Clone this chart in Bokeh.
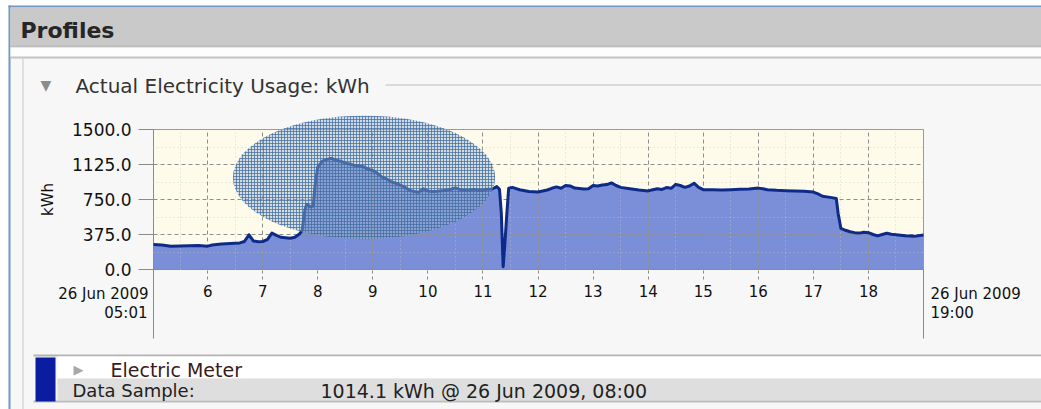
from bokeh.plotting import figure
from bokeh.models import FixedTicker, Label, Range1d, NumeralTickFormatter
from bokeh.embed import file_html
from bokeh.resources import INLINE

# ---------------- data ----------------
times = ["05:01", "05:10", "05:20", "05:30", "05:40", "05:50", "06:00", "06:05",
         "06:15", "06:25", "06:35", "06:40", "06:45", "06:50", "06:55", "07:00",
         "07:05", "07:10", "07:15", "07:20", "07:30", "07:35", "07:40", "07:43",
         "07:46", "07:48", "07:52", "07:55", "07:57", "08:00", "08:05", "08:10",
         "08:15", "08:20", "08:25", "08:30", "08:35", "08:40", "08:45", "08:50",
         "08:55", "09:00", "09:05", "09:10", "09:15", "09:20", "09:25", "09:30",
         "09:35", "09:40", "09:45", "09:50", "09:55", "10:00", "10:05", "10:10",
         "10:15", "10:20", "10:25", "10:30", "10:35", "10:40", "10:45", "10:50",
         "10:55", "11:00", "11:05", "11:10", "11:15", "11:18", "11:20", "11:22",
         "11:24", "11:26", "11:28", "11:32", "11:40", "11:50", "12:00", "12:10",
         "12:15", "12:20", "12:25", "12:30", "12:35", "12:40", "12:50", "12:55",
         "13:00", "13:05", "13:10", "13:15", "13:20", "13:25", "13:30", "13:40",
         "13:50", "14:00", "14:05", "14:10", "14:15", "14:20", "14:25", "14:30",
         "14:35", "14:40", "14:45", "14:50", "14:55", "15:00", "15:10", "15:20",
         "15:30", "15:40", "15:50", "16:00", "16:05", "16:10", "16:20", "16:30",
         "16:40", "16:50", "17:00", "17:05", "17:10", "17:20", "17:25", "17:27",
         "17:30", "17:35", "17:40", "17:45", "17:50", "17:55", "18:00", "18:05",
         "18:10", "18:15", "18:20", "18:25", "18:30", "18:40", "18:50", "19:00"]
kwh = [268, 262, 250, 252, 255, 258, 250, 262,
       272, 278, 285, 300, 372, 305, 298, 300,
       320, 390, 365, 345, 335, 345, 380, 420,
       640, 700, 672, 680, 900, 1100, 1160, 1180,
       1192, 1170, 1160, 1140, 1130, 1115, 1110, 1100,
       1075, 1060, 1030, 990, 970, 940, 925, 905,
       880, 850, 835, 828, 865, 840, 835, 838,
       845, 848, 860, 875, 855, 850, 852, 858,
       850, 852, 860, 862, 888, 860, 600, 30,
       300, 600, 870, 880, 855, 835, 830, 852,
       870, 885, 870, 900, 895, 872, 862, 865,
       900, 895, 905, 910, 928, 900, 880, 865,
       852, 842, 855, 865, 858, 878, 870, 912,
       900, 880, 895, 925, 880, 855, 855, 852,
       855, 860, 862, 872, 865, 855, 848, 845,
       842, 838, 830, 810, 785, 770, 760, 600,
       440, 420, 405, 395, 390, 400, 395, 375,
       360, 375, 388, 378, 372, 362, 355, 370]

hour_ticks = [6, 7, 8, 9, 10, 11, 12, 13, 14, 15, 16, 17, 18]
hour_minor = [5.5, 6.5, 7.5, 8.5, 9.5, 10.5, 11.5, 12.5, 13.5, 14.5, 15.5, 16.5, 17.5, 18.5]
kwh_ticks = [0, 375, 750, 1125, 1500]
kwh_minor = [187.5, 562.5, 937.5, 1312.5]
start_date, start_time = "26 Jun 2009", "05:01"
end_date, end_time = "26 Jun 2009", "19:00"
panel_title = "Profiles"
section_title = "Actual Electricity Usage: kWh"
series_name = "Electric Meter"
sample_label = "Data Sample:"
sample_value = "1014.1 kWh @ 26 Jun 2009, 08:00"
# highlight ellipse (centre in hours / kWh, size in hours / kWh)
hl_center = (8.84, 986)
hl_size = (4.76, 1325)


def to_hours(t):
    h, m = t.split(":")
    return int(h) + int(m) / 60.0


x = [to_hours(t) for t in times]
h0, h1 = to_hours(start_time), to_hours(end_time)

W, H = 1041, 409
FL, FR, FT, FB = 153, 923, 129, 269   # plot frame in page pixels
FONT = "DejaVu Sans"

# ---------------- chart ----------------
p = figure(width=W, height=H, output_backend="svg", toolbar_location=None,
           x_range=Range1d(h0, h1), y_range=Range1d(kwh_ticks[0], kwh_ticks[-1]),
           min_border_left=FL, min_border_right=W - FR,
           min_border_top=FT, min_border_bottom=H - FB,
           background_fill_color="#fffbea", border_fill_color="#f7f7f7",
           outline_line_color="#9a9a9a")

p.varea(x=x, y1=0, y2=kwh, fill_color="#7b8fd8")
p.line(x=x, y=kwh, line_color="#0d2a88", line_width=3, line_join="round",
       level="overlay")

p.xaxis.ticker = FixedTicker(ticks=hour_ticks, minor_ticks=hour_minor)
p.yaxis.ticker = FixedTicker(ticks=kwh_ticks, minor_ticks=kwh_minor)
p.yaxis.formatter = NumeralTickFormatter(format="0.0")
for ax in (p.xaxis, p.yaxis):
    ax.axis_line_color = "#8a8a8a"
    ax.major_tick_line_color = "#8a8a8a"
    ax.minor_tick_line_color = None
    ax.major_tick_in = 0
    ax.major_label_text_font = FONT
    ax.major_label_text_color = "#111111"
p.xaxis.major_label_text_font_size = "15px"
p.yaxis.major_label_text_font_size = "17px"
p.xaxis.major_tick_out = 10
p.xaxis.major_tick_line_dash = "3 3"
p.xaxis.major_label_standoff = 5
p.yaxis.major_tick_out = 15
p.yaxis.major_label_standoff = 7
p.yaxis.axis_label = "kWh"
p.yaxis.axis_label_text_font = FONT
p.yaxis.axis_label_text_font_size = "15px"
p.yaxis.axis_label_text_font_style = "normal"
p.yaxis.axis_label_text_color = "#111111"
p.yaxis.axis_label_standoff = 12

for g in (p.xgrid, p.ygrid):
    g.level = "annotation"
    g.grid_line_color = "#8f8f8f"
    g.grid_line_dash = "4 3"
    g.minor_grid_line_color = "#c8c8bc"
    g.minor_grid_line_alpha = 0.7
    g.minor_grid_line_dash = "1 3"

# ---------------- page chrome overlay (page pixel space) ----------------
c = figure(width=W, height=H, output_backend="svg", toolbar_location=None,
           x_range=Range1d(0, W), y_range=Range1d(H, 0), min_border=0,
           min_border_left=0, min_border_right=0, min_border_top=0, min_border_bottom=0,
           x_axis_location=None, y_axis_location=None,
           background_fill_alpha=0, border_fill_alpha=0, outline_line_color=None,
           margin=(-H, 0, 0, 0))
c.grid.grid_line_color = None


def fx(h):
    return FL + (h - h0) / (h1 - h0) * (FR - FL)


def fy(v):
    return FB - (v - kwh_ticks[0]) / (kwh_ticks[-1] - kwh_ticks[0]) * (FB - FT)


def box(l, r, t_, b, color):
    c.quad(left=l, right=r, top=t_, bottom=b, fill_color=color, line_color=None)


def label(xc, yc, text, size, color="#222222", align="left", style="normal"):
    c.add_layout(Label(x=xc, y=yc, text=text, text_font=FONT, text_font_size=size,
                       text_color=color, text_align=align, text_baseline="middle",
                       text_font_style=style))


# highlight ellipse over the peak
c.ellipse(x=fx(hl_center[0]), y=fy(hl_center[1]),
          width=hl_size[0] / (h1 - h0) * (FR - FL),
          height=hl_size[1] / (kwh_ticks[-1] - kwh_ticks[0]) * (FB - FT),
          fill_color="#9cb6d2", fill_alpha=0.45,
          hatch_pattern="+", hatch_color="#3d6aa0", hatch_alpha=0.7,
          hatch_scale=3, hatch_weight=1, line_color=None)

# outer page edges
box(0, 8, 0, H, "#ffffff")
box(0, W, 0, 5, "#ffffff")
box(8, 10, 5, H, "#7497c4")
box(8, W, 5, 7, "#7497c4")
# header bar
box(10, W, 7, 47, "#c9c9c9")
box(10, W, 45, 47, "#bdbdbd")
box(10, W, 47, 56, "#fdfdfd")
box(10, W, 56, 58, "#c4c4c4")
box(22, 23, 58, H, "#c8c8c8")
label(20, 30, panel_title, "22px", "#262626", style="bold")
label(40, 84, "▼", "14px", "#8c8c8c")
label(75, 85, section_title, "20px", "#333333")
box(385, W, 84, 85, "#bdbdbd")

# long start / end ticks and their labels
for h in (h0, h1):
    box(fx(h) - 0.5, fx(h) + 0.5, FB, 338, "#8a8a8a")
label(fx(h0) - 5, 293, start_date, "15px", "#111111", align="right")
label(fx(h0) - 6, 312, start_time, "15px", "#111111", align="right")
label(fx(h1) + 7, 293, end_date, "15px", "#111111")
label(fx(h1) + 7, 312, end_time, "15px", "#111111")

# bottom legend rows
box(33, W, 354, 356, "#b4b4b4")
box(57, W, 356, 378, "#ffffff")
box(57, W, 378, 400, "#dedede")
box(33, W, 400, 402, "#bdbdbd")
box(35, 55, 357, 401, "#0a1ca0")
label(73, 369, "▶", "13px", "#a8a8a8")
label(110, 369, series_name, "19px", "#3a1a1a")
label(72, 390, sample_label, "18px", "#222222")
label(320, 390, sample_value, "19px", "#222222")

open("out.html", "w").write(file_html([p, c], INLINE))
